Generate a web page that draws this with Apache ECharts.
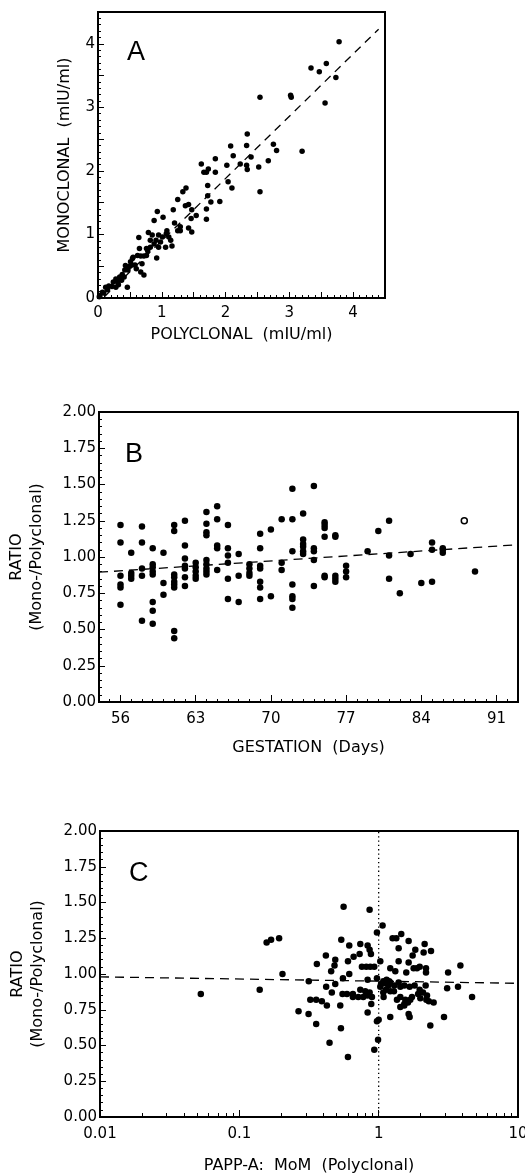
<!DOCTYPE html>
<html>
<head>
<meta charset="UTF-8">
<title>Monoclonal vs polyclonal PAPP-A</title>
<script src="https://cdn.jsdelivr.net/npm/echarts@6/dist/echarts.min.js"></script>
<style>
  html, body { margin: 0; padding: 0; background: #fff; }
  #chart { width: 525px; height: 1176px; }
</style>
</head>
<body>
<div id="chart"></div>
<script>
// ---- panel A: [polyclonal, monoclonal] in mIU/ml
var pointsA = [
  [3.78,4.03],[3.34,3.62],[3.47,3.56],[3.58,3.69],[3.73,3.47],[3.56,3.07],[3.02,3.19],[3.03,3.16],
  [2.54,3.16],[3.20,2.31],[2.34,2.58],[2.33,2.40],[2.08,2.39],[2.12,2.24],[2.40,2.22],[2.75,2.42],
  [2.80,2.32],[2.67,2.16],[2.23,2.11],[2.33,2.09],[2.34,2.02],[2.52,2.06],[2.02,2.09],[2.04,1.83],
  [2.10,1.73],[2.54,1.67],[1.84,2.19],[1.84,1.98],[1.62,2.11],[1.66,1.98],[1.70,1.98],[1.73,2.03],
  [1.72,1.77],[1.72,1.61],[1.77,1.51],[1.91,1.52],[1.70,1.40],[1.70,1.24],[1.38,1.73],[1.33,1.67],
  [1.25,1.55],[1.37,1.45],[1.42,1.47],[1.47,1.39],[1.46,1.25],[1.42,1.10],[1.47,1.04],[1.54,1.30],
  [1.18,1.39],[1.20,1.18],[1.25,1.06],[1.29,1.12],[1.29,1.06],[0.93,1.36],[0.88,1.22],[1.02,1.27],
  [0.91,0.91],[0.92,0.63],[0.95,0.80],[1.06,0.80],[1.07,1.01],[1.11,0.96],[1.14,0.91],[1.16,0.82],
  [1.01,0.96],[0.95,0.99],[0.85,0.99],[0.82,0.91],[0.79,1.03],[0.82,0.80],[0.78,0.74],[0.64,0.95],
  [0.65,0.78],[0.62,0.67],[0.67,0.66],[0.72,0.66],[0.76,0.67],[0.69,0.54],[0.72,0.36],[0.67,0.41],
  [0.54,0.62],[0.53,0.52],[0.58,0.52],[0.60,0.46],[0.50,0.50],[0.45,0.48],[0.42,0.44],[0.47,0.44],
  [0.38,0.37],[0.43,0.51],[0.46,0.17],[0.34,0.33],[0.28,0.30],[0.31,0.25],[0.24,0.25],[0.22,0.18],
  [0.17,0.19],[0.12,0.17],[0.28,0.17],[0.37,0.28],[0.07,0.09],[0.03,0.04],[0.02,0.02],[0.09,0.08],
  [0.15,0.13],[0.41,0.33],[0.32,0.21],[0.35,0.30],[0.51,0.57],[0.55,0.64],[0.88,0.85],[0.98,0.88],
  [1.08,1.06],[0.76,0.78]
];
var fitA = [[0.1, 0.02], [4.4, 4.23]];
var ticksA = [0, 1, 2, 3, 4];

// ---- panel B: [gestation day, ratio]
var pointsB = [
  [56,1.22],[56,1.10],[56,0.87],[56,0.81],[56,0.79],[56,0.67],
  [57,1.03],[57,0.89],[57,0.87],[57,0.85],
  [58,1.21],[58,1.10],[58,0.92],[58,0.87],[58,0.56],
  [59,1.06],[59,0.95],[59,0.93],[59,0.90],[59,0.88],[59,0.69],[59,0.63],[59,0.54],
  [60,1.03],[60,0.82],[60,0.74],
  [61,1.22],[61,1.18],[61,0.88],[61,0.86],[61,0.83],[61,0.81],[61,0.79],[61,0.49],[61,0.44],
  [62,1.25],[62,1.08],[62,0.99],[62,0.94],[62,0.92],[62,0.86],[62,0.80],
  [63,0.96],[63,0.93],[63,0.90],[63,0.87],[63,0.85],
  [64,1.31],[64,1.23],[64,1.17],[64,1.15],[64,0.98],[64,0.95],[64,0.92],[64,0.90],[64,0.88],
  [65,1.35],[65,1.26],[65,1.08],[65,1.06],[65,0.91],
  [66,1.22],[66,1.06],[66,1.01],[66,0.96],[66,0.85],[66,0.71],
  [67,1.02],[67,0.87],[67,0.69],
  [68,0.95],[68,0.92],[68,0.89],[68,0.87],
  [69,1.16],[69,1.06],[69,0.94],[69,0.92],[69,0.83],[69,0.79],[69,0.71],
  [70,1.19],[70,0.73],
  [71,1.26],[71,0.96],[71,0.91],
  [72,1.47],[72,1.26],[72,1.04],[72,0.81],[72,0.73],[72,0.71],[72,0.65],
  [73,1.30],[73,1.12],[73,1.09],[73,1.07],[73,1.04],[73,1.02],
  [74,1.49],[74,1.06],[74,1.04],[74,0.98],[74,0.80],
  [75,1.24],[75,1.22],[75,1.20],[75,1.14],[75,0.87],[75,0.86],
  [76,1.15],[76,1.14],[76,0.87],[76,0.85],[76,0.83],
  [77,0.94],[77,0.90],[77,0.86],
  [79,1.04],[80,1.18],[81,1.25],[81,1.01],[81,0.85],[82,0.75],[83,1.02],[84,0.82],
  [85,1.10],[85,1.05],[85,0.83],[86,1.06],[86,1.05],[86,1.03],[89,0.90]
];
var openB = [[88, 1.25]];
var fitB = [[54, 0.895], [93, 1.085]];
var ticksB = [56, 63, 70, 77, 84, 91];

// ---- panel C: [PAPP-A MoM, ratio]
var pointsC = [
  [0.560,1.47],[0.861,1.45],[1.067,1.34],[0.972,1.29],[0.193,1.25],[0.539,1.24],[1.259,1.25],[1.338,1.25],
  [1.453,1.28],[1.641,1.23],[2.138,1.21],[0.615,1.20],[0.738,1.21],[0.833,1.20],[0.861,1.17],[0.880,1.14],
  [1.391,1.18],[1.832,1.17],[2.102,1.15],[2.375,1.16],[0.418,1.13],[0.661,1.12],[0.730,1.14],[0.488,1.10],
  [0.360,1.07],[1.027,1.09],[1.391,1.09],[1.641,1.08],[1.753,1.13],[0.602,1.09],[0.482,1.06],[0.758,1.05],
  [0.815,1.05],[0.870,1.05],[0.930,1.05],[1.211,1.04],[1.316,1.02],[1.578,1.01],[1.782,1.04],[1.884,1.04],
  [2.186,1.04],[2.186,1.01],[0.456,1.02],[0.204,1.00],[3.15,1.01],[0.554,0.97],[0.833,0.96],[0.972,0.97],
  [1.079,0.95],[0.315,0.95],[0.488,0.93],[1.172,0.92],[1.211,0.94],[1.294,0.92],[1.391,0.94],[1.027,0.91],
  [1.128,0.89],[1.211,0.88],[1.079,0.87],[1.287,0.88],[1.430,0.91],[1.527,0.92],[1.668,0.91],[1.812,0.92],
  [1.968,0.89],[2.080,0.87],[2.223,0.85],[2.174,0.92],[3.10,0.90],[3.71,0.91],[0.420,0.91],[0.461,0.87],
  [0.592,0.86],[0.653,0.86],[0.738,0.89],[0.801,0.88],[0.861,0.87],[0.653,0.84],[0.714,0.84],[0.775,0.84],
  [0.833,0.85],[0.895,0.84],[0.323,0.82],[0.356,0.82],[0.391,0.81],[0.425,0.78],[0.530,0.78],[0.266,0.74],
  [0.314,0.72],[0.356,0.65],[0.536,0.62],[0.833,0.73],[0.972,0.67],[1.0,0.68],[1.211,0.70],[1.527,0.79],
  [1.641,0.72],[1.668,0.70],[1.353,0.82],[1.430,0.84],[1.553,0.82],[1.622,0.80],[1.527,0.78],[1.687,0.82],
  [1.734,0.84],[1.991,0.83],[2.198,0.82],[2.481,0.80],[2.944,0.70],[2.348,0.64],[0.444,0.52],[0.99,0.54],
  [0.93,0.47],[1.10,0.935],[1.14,0.96],[1.19,0.95],[0.0529,0.86],[0.140,0.89],[0.157,1.22],[0.169,1.24],
  [0.602,0.42],[4.68,0.84],[3.86,1.06],[0.55,0.86],[0.615,1.00],[0.885,0.79],[1.43,0.77],[1.92,0.86],
  [1.97,1.05],[2.29,0.81],[1.04,0.93],[1.085,0.84]
];
var fitC = [[0.01, 0.98], [10, 0.935]];
var momOne = [[1, 0], [1, 2]];
var ticksC = [0.01, 0.1, 1, 10];
var minorC = [0.02,0.03,0.04,0.05,0.06,0.07,0.08,0.09,0.2,0.3,0.4,0.5,0.6,0.7,0.8,0.9,2,3,4,5,6,7,8,9];

var FONT = 'DejaVu Sans';
var black = '#000';
var lineBlack = { color: black, width: 2 };
var tickStyle = { color: black, width: 1 };
var labelStyle = { color: black, fontFamily: FONT, fontSize: 15 };
var nameStyle = { color: black, fontFamily: FONT, fontSize: 16, lineHeight: 20 };
var dot = { color: black, opacity: 1 };

var chart = echarts.init(document.getElementById('chart'), null, { renderer: 'canvas' });

function letter(text, left, top) {
  return { text: text, left: left, top: top,
    textStyle: { color: black, fontFamily: 'Liberation Sans', fontWeight: 'normal', fontSize: 27 } };
}

chart.setOption({
  animation: false,
  backgroundColor: '#fff',
  title: [letter('A', 122, 34), letter('B', 120, 436), letter('C', 124, 855)],
  grid: [
    { left: 98, top: 12, width: 287, height: 286, show: true, borderColor: black, borderWidth: 2, outerBoundsMode: 'none' },
    { left: 99, top: 412, width: 419, height: 290, show: true, borderColor: black, borderWidth: 2, outerBoundsMode: 'none' },
    { left: 100, top: 831, width: 418, height: 286, show: true, borderColor: black, borderWidth: 2, outerBoundsMode: 'none' }
  ],
  xAxis: [
    { gridIndex: 0, type: 'value', min: 0, max: 4.5, interval: 0.5, position: 'bottom',
      name: 'POLYCLONAL  (mIU/ml)', nameLocation: 'middle', nameGap: 27, nameTextStyle: nameStyle,
      axisLine: { onZero: false, lineStyle: lineBlack },
      axisTick: { inside: true, length: 6, lineStyle: tickStyle },
      minorTick: { show: true, splitNumber: 5, length: 3, lineStyle: tickStyle },
      splitLine: { show: false },
      axisLabel: Object.assign({ margin: 8, showMaxLabel: false,
        formatter: function (v) { return ticksA.indexOf(v) >= 0 ? String(v) : ''; } }, labelStyle) },
    { gridIndex: 1, type: 'value', min: 54, max: 93, interval: 1, position: 'bottom',
      name: 'GESTATION  (Days)', nameLocation: 'middle', nameGap: 36, nameTextStyle: nameStyle,
      axisLine: { onZero: false, lineStyle: lineBlack },
      axisTick: { inside: true, length: 3, lineStyle: tickStyle },
      splitLine: { show: false },
      axisLabel: Object.assign({ margin: 10,
        formatter: function (v) { return ticksB.indexOf(v) >= 0 ? String(v) : ''; } }, labelStyle) },
    { gridIndex: 1, type: 'value', min: 54, max: 93, position: 'bottom',
      axisLine: { show: false }, axisLabel: { show: false }, splitLine: { show: false },
      axisTick: { show: true, inside: true, length: 7, lineStyle: tickStyle, customValues: ticksB } },
    { gridIndex: 2, type: 'log', logBase: 10, min: 0.01, max: 10, position: 'bottom',
      name: 'PAPP-A:  MoM  (Polyclonal)', nameLocation: 'middle', nameGap: 39, nameTextStyle: nameStyle,
      axisLine: { onZero: false, lineStyle: lineBlack },
      axisTick: { inside: true, length: 7, lineStyle: tickStyle },
      splitLine: { show: false },
      axisLabel: Object.assign({ margin: 10,
        formatter: function (v) { return String(+(+v).toPrecision(3)); } }, labelStyle) },
    { gridIndex: 2, type: 'log', logBase: 10, min: 0.01, max: 10, position: 'bottom',
      axisLine: { show: false }, axisLabel: { show: false }, splitLine: { show: false },
      axisTick: { show: true, inside: true, length: 4, lineStyle: tickStyle, customValues: minorC } }
  ],
  yAxis: [
    { gridIndex: 0, type: 'value', min: 0, max: 4.5, interval: 0.5, position: 'left',
      name: 'MONOCLONAL  (mIU/ml)', nameLocation: 'middle', nameGap: 20, nameRotate: 90, nameTextStyle: nameStyle,
      axisLine: { onZero: false, lineStyle: lineBlack },
      axisTick: { inside: true, length: 6, lineStyle: tickStyle },
      minorTick: { show: true, splitNumber: 5, length: 3, lineStyle: tickStyle },
      splitLine: { show: false },
      axisLabel: Object.assign({ margin: 3, showMaxLabel: false,
        formatter: function (v) { return ticksA.indexOf(v) >= 0 ? String(v) : ''; } }, labelStyle) },
    { gridIndex: 1, type: 'value', min: 0, max: 2, interval: 0.25, position: 'left',
      name: 'RATIO\n(Mono-/Polyclonal)', nameLocation: 'middle', nameGap: 52, nameRotate: 90, nameTextStyle: nameStyle,
      axisLine: { onZero: false, lineStyle: lineBlack },
      axisTick: { inside: true, length: 6, lineStyle: tickStyle },
      minorTick: { show: true, splitNumber: 5, length: 3, lineStyle: tickStyle },
      splitLine: { show: false },
      axisLabel: Object.assign({ margin: 3, formatter: function (v) { return v.toFixed(2); } }, labelStyle) },
    { gridIndex: 2, type: 'value', min: 0, max: 2, interval: 0.25, position: 'left',
      name: 'RATIO\n(Mono-/Polyclonal)', nameLocation: 'middle', nameGap: 52, nameRotate: 90, nameTextStyle: nameStyle,
      axisLine: { onZero: false, lineStyle: lineBlack },
      axisTick: { inside: true, length: 6, lineStyle: tickStyle },
      minorTick: { show: true, splitNumber: 5, length: 3, lineStyle: tickStyle },
      splitLine: { show: false },
      axisLabel: Object.assign({ margin: 3, formatter: function (v) { return v.toFixed(2); } }, labelStyle) }
  ],
  series: [
    { type: 'line', xAxisIndex: 0, yAxisIndex: 0, data: fitA, symbol: 'none', silent: true,
      lineStyle: { color: black, width: 1.3, type: [8, 6] } },
    { type: 'scatter', xAxisIndex: 0, yAxisIndex: 0, data: pointsA, symbolSize: 5.5, silent: true,
      itemStyle: dot },
    { type: 'line', xAxisIndex: 1, yAxisIndex: 1, data: fitB, symbol: 'none', silent: true,
      lineStyle: { color: black, width: 1.3, type: [9, 6] } },
    { type: 'scatter', xAxisIndex: 1, yAxisIndex: 1, data: pointsB, symbolSize: 6.5, silent: true,
      itemStyle: dot },
    { type: 'scatter', xAxisIndex: 1, yAxisIndex: 1, data: openB, symbol: 'circle', symbolSize: 6, silent: true,
      itemStyle: { color: '#fff', opacity: 1, borderColor: black, borderWidth: 1.5 } },
    { type: 'line', xAxisIndex: 3, yAxisIndex: 2, data: fitC, symbol: 'none', silent: true,
      lineStyle: { color: black, width: 1.3, type: [9, 6] } },
    { type: 'line', xAxisIndex: 3, yAxisIndex: 2, data: momOne, symbol: 'none', silent: true,
      lineStyle: { color: black, width: 1.3, type: [1.3, 3] } },
    { type: 'scatter', xAxisIndex: 3, yAxisIndex: 2, data: pointsC, symbolSize: 6.5, silent: true,
      itemStyle: dot }
  ]
});
</script>
</body>
</html>
